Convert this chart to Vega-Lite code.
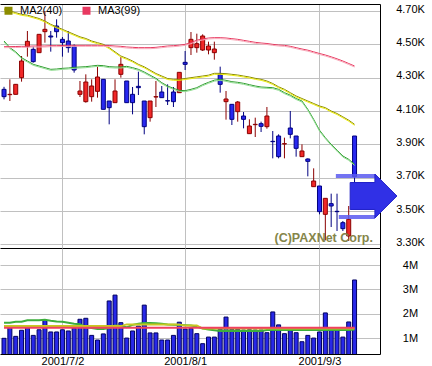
{
  "$schema": "https://vega.github.io/schema/vega-lite/v6.json",
  "background": "white",
  "padding": {"left": 0, "top": 2, "right": 0, "bottom": 0},
  "spacing": 0,
  "config": {
    "view": {"stroke": null},
    "font": "Liberation Sans",
    "axis": {
      "labelFont": "Liberation Sans",
      "labelFontSize": 11,
      "labelColor": "#000000",
      "labelOverlap": false,
      "labelBound": false,
      "gridColor": "#c0c0c0",
      "gridWidth": 1,
      "gridOpacity": 1,
      "domainColor": "#000000",
      "domainWidth": 1,
      "ticks": false,
      "tickSize": 0,
      "tickCount": 30,
      "title": null
    }
  },
  "datasets": {
    "k": [
      {"i":0,"d":"2001/6/18","o":4.23,"h":4.245,"l":4.17,"c":4.186,"v":1.00,"m1":4.52,"m2":4.712,"m3":4.486,"vm1":1.64,"vm2":1.50,"vm3":1.43},
      {"i":1,"d":"2001/6/19","o":4.198,"h":4.29,"l":4.16,"c":4.20,"v":1.43,"m1":4.48,"m2":4.70,"m3":4.486,"vm1":1.64,"vm2":1.50,"vm3":1.43},
      {"i":2,"d":"2001/6/20","o":4.20,"h":4.262,"l":4.20,"c":4.26,"v":1.08,"m1":4.455,"m2":4.69,"m3":4.487,"vm1":1.68,"vm2":1.50,"vm3":1.43},
      {"i":3,"d":"2001/6/21","o":4.30,"h":4.43,"l":4.276,"c":4.40,"v":1.33,"m1":4.42,"m2":4.68,"m3":4.488,"vm1":1.68,"vm2":1.50,"vm3":1.43},
      {"i":4,"d":"2001/6/22","o":4.486,"h":4.58,"l":4.426,"c":4.518,"v":1.43,"m1":4.40,"m2":4.675,"m3":4.488,"vm1":1.74,"vm2":1.50,"vm3":1.43},
      {"i":5,"d":"2001/6/25","o":4.47,"h":4.486,"l":4.39,"c":4.396,"v":1.12,"m1":4.38,"m2":4.665,"m3":4.49,"vm1":1.74,"vm2":1.50,"vm3":1.43},
      {"i":6,"d":"2001/6/26","o":4.45,"h":4.56,"l":4.45,"c":4.56,"v":1.35,"m1":4.37,"m2":4.655,"m3":4.49,"vm1":1.74,"vm2":1.50,"vm3":1.43},
      {"i":7,"d":"2001/6/27","o":4.576,"h":4.70,"l":4.51,"c":4.59,"v":1.74,"m1":4.36,"m2":4.64,"m3":4.49,"vm1":1.76,"vm2":1.50,"vm3":1.43},
      {"i":8,"d":"2001/6/28","o":4.55,"h":4.58,"l":4.456,"c":4.544,"v":1.26,"m1":4.35,"m2":4.62,"m3":4.492,"vm1":1.72,"vm2":1.50,"vm3":1.43},
      {"i":9,"d":"2001/6/29","o":4.61,"h":4.65,"l":4.54,"c":4.576,"v":1.26,"m1":4.352,"m2":4.605,"m3":4.492,"vm1":1.69,"vm2":1.50,"vm3":1.43},
      {"i":10,"d":"2001/7/2","o":4.53,"h":4.544,"l":4.426,"c":4.51,"v":1.35,"m1":4.356,"m2":4.59,"m3":4.493,"vm1":1.68,"vm2":1.50,"vm3":1.43},
      {"i":11,"d":"2001/7/3","o":4.52,"h":4.58,"l":4.45,"c":4.48,"v":1.30,"m1":4.358,"m2":4.575,"m3":4.494,"vm1":1.64,"vm2":1.50,"vm3":1.43},
      {"i":12,"d":"2001/7/4","o":4.49,"h":4.50,"l":4.33,"c":4.346,"v":1.42,"m1":4.362,"m2":4.56,"m3":4.494,"vm1":1.60,"vm2":1.50,"vm3":1.43},
      {"i":13,"d":"2001/7/5","o":4.20,"h":4.28,"l":4.184,"c":4.22,"v":1.78,"m1":4.364,"m2":4.545,"m3":4.494,"vm1":1.58,"vm2":1.50,"vm3":1.43},
      {"i":14,"d":"2001/7/6","o":4.156,"h":4.32,"l":4.15,"c":4.274,"v":1.82,"m1":4.366,"m2":4.535,"m3":4.494,"vm1":1.45,"vm2":1.50,"vm3":1.43},
      {"i":15,"d":"2001/7/9","o":4.186,"h":4.29,"l":4.156,"c":4.25,"v":1.12,"m1":4.37,"m2":4.52,"m3":4.494,"vm1":1.42,"vm2":1.50,"vm3":1.43},
      {"i":16,"d":"2001/7/10","o":4.218,"h":4.366,"l":4.18,"c":4.304,"v":0.93,"m1":4.374,"m2":4.51,"m3":4.494,"vm1":1.38,"vm2":1.50,"vm3":1.43},
      {"i":17,"d":"2001/7/11","o":4.29,"h":4.29,"l":4.11,"c":4.11,"v":1.18,"m1":4.372,"m2":4.50,"m3":4.494,"vm1":1.38,"vm2":1.50,"vm3":1.43},
      {"i":18,"d":"2001/7/12","o":4.16,"h":4.16,"l":4.02,"c":4.12,"v":2.53,"m1":4.366,"m2":4.48,"m3":4.493,"vm1":1.42,"vm2":1.50,"vm3":1.43},
      {"i":19,"d":"2001/7/13","o":4.15,"h":4.29,"l":4.15,"c":4.22,"v":2.77,"m1":4.364,"m2":4.455,"m3":4.49,"vm1":1.52,"vm2":1.50,"vm3":1.43},
      {"i":20,"d":"2001/7/16","o":4.32,"h":4.424,"l":4.30,"c":4.38,"v":1.64,"m1":4.364,"m2":4.43,"m3":4.488,"vm1":1.50,"vm2":1.50,"vm3":1.43},
      {"i":21,"d":"2001/7/18","o":4.28,"h":4.28,"l":4.15,"c":4.15,"v":1.01,"m1":4.368,"m2":4.416,"m3":4.484,"vm1":1.45,"vm2":1.57,"vm3":1.43},
      {"i":22,"d":"2001/7/19","o":4.20,"h":4.244,"l":4.08,"c":4.15,"v":1.30,"m1":4.36,"m2":4.40,"m3":4.482,"vm1":1.55,"vm2":1.57,"vm3":1.43},
      {"i":23,"d":"2001/7/20","o":4.248,"h":4.336,"l":4.196,"c":4.24,"v":1.50,"m1":4.35,"m2":4.38,"m3":4.48,"vm1":1.60,"vm2":1.57,"vm3":1.43},
      {"i":24,"d":"2001/7/23","o":4.16,"h":4.16,"l":3.96,"c":4.006,"v":2.36,"m1":4.334,"m2":4.365,"m3":4.48,"vm1":1.63,"vm2":1.57,"vm3":1.43},
      {"i":25,"d":"2001/7/24","o":4.06,"h":4.16,"l":4.036,"c":4.16,"v":1.22,"m1":4.315,"m2":4.345,"m3":4.48,"vm1":1.63,"vm2":1.57,"vm3":1.43},
      {"i":26,"d":"2001/7/25","o":4.184,"h":4.28,"l":4.124,"c":4.186,"v":1.22,"m1":4.296,"m2":4.325,"m3":4.482,"vm1":1.62,"vm2":1.57,"vm3":1.43},
      {"i":27,"d":"2001/7/26","o":4.214,"h":4.25,"l":4.18,"c":4.18,"v":0.93,"m1":4.27,"m2":4.31,"m3":4.486,"vm1":1.60,"vm2":1.57,"vm3":1.43},
      {"i":28,"d":"2001/7/27","o":4.162,"h":4.26,"l":4.136,"c":4.16,"v":0.93,"m1":4.25,"m2":4.295,"m3":4.49,"vm1":1.57,"vm2":1.57,"vm3":1.43},
      {"i":29,"d":"2001/7/30","o":4.214,"h":4.244,"l":4.124,"c":4.156,"v":1.12,"m1":4.236,"m2":4.29,"m3":4.492,"vm1":1.56,"vm2":1.57,"vm3":1.43},
      {"i":30,"d":"2001/7/31","o":4.21,"h":4.332,"l":4.21,"c":4.332,"v":1.66,"m1":4.224,"m2":4.29,"m3":4.495,"vm1":1.55,"vm2":1.57,"vm3":1.43},
      {"i":31,"d":"2001/8/1","o":4.392,"h":4.46,"l":4.346,"c":4.38,"v":1.38,"m1":4.222,"m2":4.295,"m3":4.50,"vm1":1.54,"vm2":1.52,"vm3":1.43},
      {"i":32,"d":"2001/8/2","o":4.48,"h":4.574,"l":4.436,"c":4.53,"v":1.40,"m1":4.23,"m2":4.30,"m3":4.51,"vm1":1.52,"vm2":1.52,"vm3":1.43},
      {"i":33,"d":"2001/8/3","o":4.48,"h":4.564,"l":4.45,"c":4.504,"v":1.19,"m1":4.24,"m2":4.305,"m3":4.525,"vm1":1.48,"vm2":1.52,"vm3":1.43},
      {"i":34,"d":"2001/8/6","o":4.466,"h":4.56,"l":4.46,"c":4.55,"v":0.78,"m1":4.258,"m2":4.31,"m3":4.532,"vm1":1.40,"vm2":1.40,"vm3":1.43},
      {"i":35,"d":"2001/8/7","o":4.466,"h":4.516,"l":4.44,"c":4.49,"v":1.05,"m1":4.272,"m2":4.315,"m3":4.538,"vm1":1.36,"vm2":1.40,"vm3":1.43},
      {"i":36,"d":"2001/8/8","o":4.45,"h":4.516,"l":4.408,"c":4.472,"v":1.05,"m1":4.285,"m2":4.326,"m3":4.54,"vm1":1.33,"vm2":1.40,"vm3":1.43},
      {"i":37,"d":"2001/8/9","o":4.322,"h":4.366,"l":4.21,"c":4.26,"v":1.37,"m1":4.29,"m2":4.326,"m3":4.54,"vm1":1.30,"vm2":1.40,"vm3":1.43},
      {"i":38,"d":"2001/8/10","o":4.156,"h":4.22,"l":4.048,"c":4.172,"v":1.87,"m1":4.284,"m2":4.324,"m3":4.538,"vm1":1.30,"vm2":1.40,"vm3":1.43},
      {"i":39,"d":"2001/8/13","o":4.14,"h":4.14,"l":4.016,"c":4.05,"v":1.37,"m1":4.276,"m2":4.32,"m3":4.534,"vm1":1.30,"vm2":1.40,"vm3":1.43},
      {"i":40,"d":"2001/8/14","o":4.096,"h":4.16,"l":4.036,"c":4.154,"v":1.37,"m1":4.272,"m2":4.316,"m3":4.53,"vm1":1.30,"vm2":1.40,"vm3":1.43},
      {"i":41,"d":"2001/8/15","o":4.07,"h":4.094,"l":3.996,"c":4.05,"v":1.34,"m1":4.266,"m2":4.31,"m3":4.524,"vm1":1.30,"vm2":1.40,"vm3":1.43},
      {"i":42,"d":"2001/8/16","o":3.964,"h":4.05,"l":3.964,"c":4.01,"v":1.35,"m1":4.258,"m2":4.304,"m3":4.518,"vm1":1.30,"vm2":1.40,"vm3":1.43},
      {"i":43,"d":"2001/8/17","o":4.018,"h":4.06,"l":3.944,"c":4.02,"v":1.34,"m1":4.25,"m2":4.296,"m3":4.512,"vm1":1.30,"vm2":1.40,"vm3":1.43},
      {"i":44,"d":"2001/8/20","o":4.024,"h":4.036,"l":3.974,"c":4.008,"v":1.34,"m1":4.244,"m2":4.29,"m3":4.508,"vm1":1.30,"vm2":1.40,"vm3":1.43},
      {"i":45,"d":"2001/8/21","o":4.006,"h":4.124,"l":3.994,"c":4.07,"v":1.23,"m1":4.242,"m2":4.28,"m3":4.505,"vm1":1.34,"vm2":1.40,"vm3":1.43},
      {"i":46,"d":"2001/8/22","o":3.918,"h":3.98,"l":3.816,"c":3.916,"v":2.08,"m1":4.24,"m2":4.265,"m3":4.50,"vm1":1.34,"vm2":1.40,"vm3":1.43},
      {"i":47,"d":"2001/8/23","o":3.95,"h":3.96,"l":3.816,"c":3.826,"v":1.55,"m1":4.23,"m2":4.245,"m3":4.496,"vm1":1.34,"vm2":1.40,"vm3":1.43},
      {"i":48,"d":"2001/8/24","o":3.902,"h":3.94,"l":3.816,"c":3.904,"v":1.19,"m1":4.21,"m2":4.23,"m3":4.494,"vm1":1.34,"vm2":1.40,"vm3":1.43},
      {"i":49,"d":"2001/8/27","o":3.998,"h":4.10,"l":3.936,"c":3.96,"v":1.37,"m1":4.195,"m2":4.21,"m3":4.488,"vm1":1.34,"vm2":1.40,"vm3":1.43},
      {"i":50,"d":"2001/8/28","o":3.95,"h":3.95,"l":3.826,"c":3.876,"v":1.23,"m1":4.175,"m2":4.19,"m3":4.48,"vm1":1.34,"vm2":1.40,"vm3":1.43},
      {"i":51,"d":"2001/8/29","o":3.826,"h":3.90,"l":3.826,"c":3.86,"v":0.86,"m1":4.16,"m2":4.175,"m3":4.472,"vm1":1.34,"vm2":1.40,"vm3":1.43},
      {"i":52,"d":"2001/8/30","o":3.812,"h":3.816,"l":3.708,"c":3.798,"v":1.12,"m1":4.11,"m2":4.16,"m3":4.465,"vm1":1.34,"vm2":1.40,"vm3":1.43},
      {"i":53,"d":"2001/8/31","o":3.646,"h":3.756,"l":3.646,"c":3.68,"v":1.01,"m1":4.05,"m2":4.145,"m3":4.455,"vm1":1.34,"vm2":1.40,"vm3":1.43},
      {"i":54,"d":"2001/9/3","o":3.65,"h":3.65,"l":3.48,"c":3.496,"v":1.26,"m1":3.985,"m2":4.13,"m3":4.445,"vm1":1.34,"vm2":1.40,"vm3":1.43},
      {"i":55,"d":"2001/9/4","o":3.48,"h":3.576,"l":3.324,"c":3.576,"v":2.04,"m1":3.94,"m2":4.12,"m3":4.436,"vm1":1.34,"vm2":1.40,"vm3":1.43},
      {"i":56,"d":"2001/9/5","o":3.544,"h":3.604,"l":3.404,"c":3.53,"v":1.35,"m1":3.90,"m2":4.10,"m3":4.425,"vm1":1.34,"vm2":1.40,"vm3":1.43},
      {"i":57,"d":"2001/9/6","o":3.498,"h":3.604,"l":3.38,"c":3.496,"v":1.39,"m1":3.865,"m2":4.085,"m3":4.413,"vm1":1.34,"vm2":1.40,"vm3":1.43},
      {"i":58,"d":"2001/9/7","o":3.43,"h":3.44,"l":3.38,"c":3.394,"v":1.05,"m1":3.83,"m2":4.065,"m3":4.40,"vm1":1.34,"vm2":1.40,"vm3":1.43},
      {"i":59,"d":"2001/9/10","o":3.35,"h":3.53,"l":3.32,"c":3.45,"v":1.67,"m1":3.81,"m2":4.045,"m3":4.385,"vm1":1.34,"vm2":1.40,"vm3":1.43},
      {"i":60,"d":"2001/9/11","o":3.95,"h":3.95,"l":3.64,"c":3.706,"v":3.39,"m1":3.78,"m2":4.02,"m3":4.37,"vm1":1.36,"vm2":1.40,"vm3":1.43}
    ]
  },
  "vconcat": [
    {
      "width": 380,
      "height": 244,
      "resolve": {"axis": {"x": "independent"}},
      "layer": [
        {
          "data": {"name": "k"},
          "mark": {"type": "rule", "strokeWidth": 1},
          "encoding": {
            "x": {"field": "i", "type": "quantitative",
                  "scale": {"domain": [0.1667, 63.5], "nice": false, "zero": false},
                  "axis": {"orient": "top", "values": [10, 31, 54], "labels": false, "grid": true, "domain": true}},
            "y": {"field": "l", "type": "quantitative",
                  "scale": {"domain": [3.278, 4.742], "nice": false, "zero": false},
                  "axis": {"orient": "right", "values": [3.3, 3.5, 3.7, 3.9, 4.1, 4.3, 4.5, 4.7], "tickCount": 30,
                           "labelExpr": "format(datum.value, '.2f') + 'K'", "labelOverlap": false,
                           "labelAlign": "center", "labelBaseline": "middle", "labelPadding": 30, "labelOffset": -2, "grid": true, "domain": true}},
            "y2": {"field": "h"},
            "color": {"condition": {"test": "datum.c >= datum.o", "value": "#8b0000"}, "value": "#000080"}
          }
        },
        {
          "data": {"name": "k"},
          "mark": {"type": "bar", "size": 4, "strokeWidth": 1},
          "encoding": {
            "x": {"field": "i", "type": "quantitative",
                  "axis": {"orient": "bottom", "labels": false, "grid": false, "domain": true}},
            "y": {"field": "o", "type": "quantitative"},
            "y2": {"field": "c"},
            "fill": {"condition": {"test": "datum.c >= datum.o", "value": "#f02828"}, "value": "#2828f0"},
            "stroke": {"condition": {"test": "datum.c >= datum.o", "value": "#8b0000"}, "value": "#000080"}
          }
        },
        {
          "data": {"name": "k"},
          "mark": {"type": "line", "strokeWidth": 1, "color": "#2e9b2e"},
          "encoding": {
            "x": {"field": "i", "type": "quantitative", "axis": null},
            "y": {"field": "m1", "type": "quantitative"}
          }
        },
        {
          "data": {"name": "k"},
          "mark": {"type": "line", "strokeWidth": 1, "color": "#90dc90", "yOffset": 1},
          "encoding": {
            "x": {"field": "i", "type": "quantitative", "axis": null},
            "y": {"field": "m1", "type": "quantitative"}
          }
        },
        {
          "data": {"name": "k"},
          "mark": {"type": "line", "strokeWidth": 1},
          "encoding": {
            "x": {"field": "i", "type": "quantitative", "axis": null},
            "y": {"field": "m2", "type": "quantitative"},
            "color": {"datum": "MA2(40)", "type": "nominal",
                      "scale": {"domain": ["MA2(40)", "MA3(99)"], "range": ["#8c8c00", "#e83860"]},
                      "legend": {"orient": "none", "legendX": 3, "legendY": 1, "direction": "horizontal", "title": null,
                                 "symbolType": "square", "symbolSize": 16, "symbolStrokeWidth": 4,
                                 "labelFont": "Liberation Sans", "labelFontSize": 11, "labelColor": "#000000",
                                 "columnPadding": 13, "labelOffset": 6, "padding": 0}}
          }
        },
        {
          "data": {"name": "k"},
          "mark": {"type": "line", "strokeWidth": 1, "color": "#ecec10", "yOffset": 1},
          "encoding": {
            "x": {"field": "i", "type": "quantitative", "axis": null},
            "y": {"field": "m2", "type": "quantitative"}
          }
        },
        {
          "data": {"name": "k"},
          "mark": {"type": "line", "strokeWidth": 1},
          "encoding": {
            "x": {"field": "i", "type": "quantitative", "axis": null},
            "y": {"field": "m3", "type": "quantitative"},
            "color": {"datum": "MA3(99)", "type": "nominal"}
          }
        },
        {
          "data": {"name": "k"},
          "mark": {"type": "line", "strokeWidth": 1, "color": "#f8a8b8", "yOffset": 1},
          "encoding": {
            "x": {"field": "i", "type": "quantitative", "axis": null},
            "y": {"field": "m3", "type": "quantitative"}
          }
        },
        {
          "data": {"values": [{}]},
          "mark": {"type": "rule", "strokeWidth": 4, "color": "#5a5af0", "opacity": 0.85, "clip": false},
          "encoding": {
            "x": {"datum": 56.8, "type": "quantitative", "axis": null},
            "x2": {"datum": 63.5},
            "y": {"datum": 3.71, "type": "quantitative"}
          }
        },
        {
          "data": {"values": [{}]},
          "mark": {"type": "rule", "strokeWidth": 4, "color": "#5a5af0", "opacity": 0.85, "clip": false},
          "encoding": {
            "x": {"datum": 57.3, "type": "quantitative", "axis": null},
            "x2": {"datum": 63.5},
            "y": {"datum": 3.464, "type": "quantitative"}
          }
        },
        {
          "data": {"values": [{}]},
          "mark": {"type": "point", "shape": "M-0.85,-0.49L0.05,-0.49L0.05,-0.8L0.85,0L0.05,0.8L0.05,0.49L-0.85,0.49Z",
                   "size": 3025, "filled": true, "color": "#3030e6", "fill": "#3030e6", "fillOpacity": 1, "opacity": 1,
                   "stroke": "#2020c8", "strokeWidth": 1, "clip": false},
          "encoding": {
            "x": {"datum": 63.25, "type": "quantitative", "axis": null},
            "y": {"datum": 3.59, "type": "quantitative"}
          }
        },
        {
          "data": {"values": [{}]},
          "mark": {"type": "text", "text": "(C)PAXNet Corp.", "font": "Liberation Sans", "fontWeight": "bold",
                   "fontSize": 12.5, "color": "#85854a", "align": "left", "baseline": "alphabetic"},
          "encoding": {
            "x": {"datum": 46.3, "type": "quantitative", "axis": null},
            "y": {"datum": 3.314, "type": "quantitative"}
          }
        }
      ]
    },
    {
      "width": 380,
      "height": 106,
      "data": {"name": "k"},
      "layer": [
        {
          "mark": {"type": "bar", "size": 4, "fill": "#2828e8", "stroke": "#000060", "strokeWidth": 1, "clip": true},
          "encoding": {
            "x": {"field": "i", "type": "quantitative",
                  "scale": {"domain": [0.1667, 63.5], "nice": false, "zero": false},
                  "axis": {"values": [10, 31, 54], "labelOverlap": false, "tickCount": 30,
                           "labelExpr": "datum.value == 10 ? '2001/7/2' : datum.value == 31 ? '2001/8/1' : '2001/9/3'",
                           "grid": true, "labelPadding": 1, "domain": true, "labelFlush": false}},
            "y": {"field": "v", "type": "quantitative",
                  "scale": {"domain": [0.357, 4.70], "nice": false, "zero": false},
                  "axis": {"orient": "right", "values": [1, 2, 3, 4], "tickCount": 30, "labelExpr": "datum.value + 'M'", "labelOverlap": false,
                           "labelAlign": "center", "labelBaseline": "middle", "labelPadding": 30, "grid": true, "domain": true}},
            "y2": {"datum": 0}
          }
        },
        {
          "mark": {"type": "line", "strokeWidth": 2, "color": "#3cae3c"},
          "encoding": {
            "x": {"field": "i", "type": "quantitative"},
            "y": {"field": "vm1", "type": "quantitative"}
          }
        },
        {
          "mark": {"type": "line", "strokeWidth": 2, "color": "#c8c820"},
          "encoding": {
            "x": {"field": "i", "type": "quantitative"},
            "y": {"field": "vm2", "type": "quantitative"}
          }
        },
        {
          "mark": {"type": "line", "strokeWidth": 2, "color": "#f04060"},
          "encoding": {
            "x": {"field": "i", "type": "quantitative"},
            "y": {"field": "vm3", "type": "quantitative"}
          }
        }
      ]
    }
  ]
}
